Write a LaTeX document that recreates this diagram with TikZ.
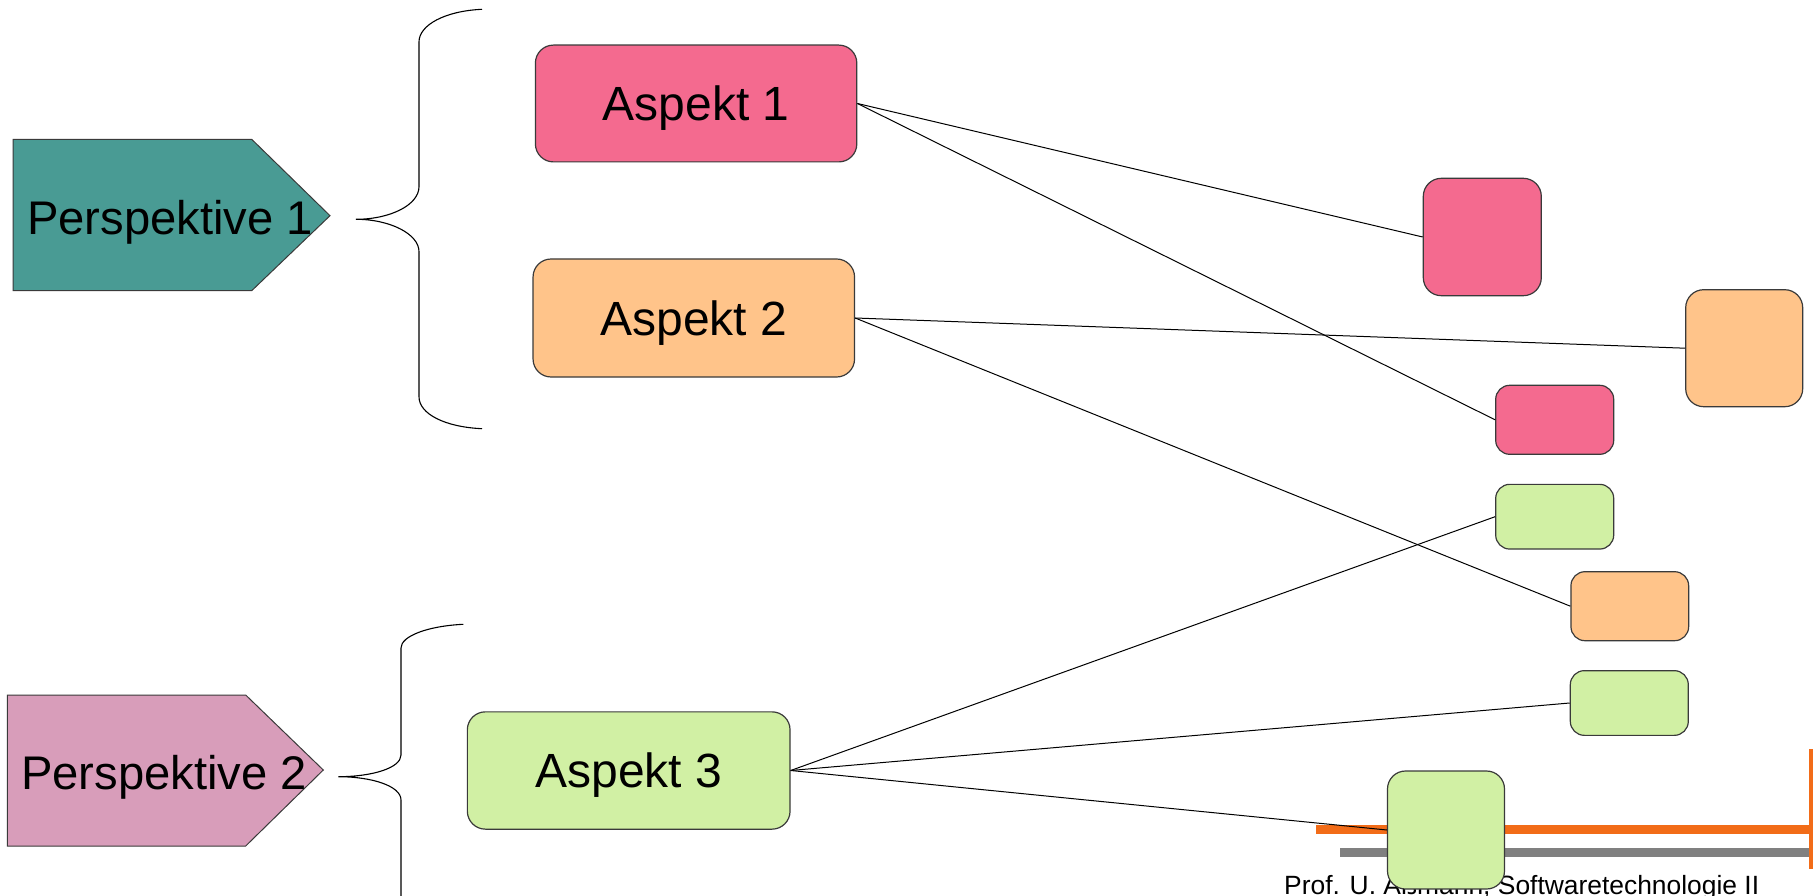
\documentclass[tikz,border=0pt]{standalone}
\usepackage{fontspec}
\setmainfont{Liberation Sans}
\definecolor{boxline}{HTML}{3A3A3A}
\definecolor{aspink}{HTML}{F46A8F}
\definecolor{asorange}{HTML}{FFC48A}
\definecolor{asgreen}{HTML}{D1F0A4}
\definecolor{perteal}{HTML}{499B94}
\definecolor{permauve}{HTML}{D89DBA}
\definecolor{barorange}{HTML}{F26C18}
\definecolor{bargray}{HTML}{808080}
\begin{document}
\begin{tikzpicture}[x=1pt,y=-1pt,
  bigfont/.style={font=\fontsize{48}{56}\selectfont},
  perfont/.style={font=\fontsize{47.2}{56}\selectfont},
  aspect/.style={draw=boxline, line width=1.2pt, rounded corners=18pt,
    inner sep=0pt, bigfont, text height=34.4pt, text depth=0pt},
  tile/.style={draw=boxline, line width=1.2pt, rounded corners=#1, inner sep=0pt},
  tile/.default=18pt,
  arrowshape/.style={draw=boxline, line width=1pt},
  brace/.style={draw=black, line width=1.1pt},
  conn/.style={draw=black, line width=1pt}]
\useasboundingbox (0,0) rectangle (1813,896);

% footer bars and author line
\fill[barorange] (1316,825) rectangle (1813,834);
\fill[bargray] (1339.5,848) rectangle (1813,857);
\fill[barorange] (1808.5,748.5) rectangle (1813,869);
\node[anchor=base west, inner sep=0pt, font=\fontsize{26.4}{30}\selectfont] (footer)
  at (1284,894) {Prof. U. Aßmann, Softwaretechnologie II};

% perspectives
\path[arrowshape, fill=perteal] (13,139.3) -- (251.7,139.3) -- (330,215.7)
  -- (251.7,290.7) -- (13,290.7) -- cycle;
\node[anchor=base, inner sep=0pt, perfont] (p1) at (170,235) {Perspektive 1};
\path[arrowshape, fill=permauve] (7.3,695) -- (245.7,695) -- (323.3,770)
  -- (245.7,846) -- (7.3,846) -- cycle;
\node[anchor=base, inner sep=0pt, perfont] (p2) at (164,789.3) {Perspektive 2};

% braces
\draw[brace] (482,9.3) .. controls (445,11) and (419,25) .. (419,42)
  -- (419,186.7) .. controls (419,205) and (390,219.3) .. (356,219.3)
  .. controls (390,219.3) and (419,234) .. (419,251.7)
  -- (419,396.7) .. controls (419,414) and (445,427) .. (482,428.7);
\draw[brace] (463.3,624.3) .. controls (428,626) and (401,636) .. (401,648)
  -- (401,755) .. controls (401,768) and (372,776.7) .. (338.3,776.7)
  .. controls (372,776.7) and (401,786) .. (401,800) -- (401,900);

% aspects
\node[aspect, fill=aspink, minimum width=321.4pt, minimum height=116.8pt]
  (a1) at (696.1,103.5) {Aspekt 1};
\node[aspect, fill=asorange, minimum width=321.5pt, minimum height=118pt]
  (a2) at (693.8,318) {Aspekt 2};
\node[aspect, fill=asgreen, minimum width=322.7pt, minimum height=117.3pt]
  (a3) at (628.7,770.5) {Aspekt 3};

% concern tiles
\node[tile, fill=aspink, minimum width=118pt, minimum height=117.4pt] (k1) at (1482.3,237) {};
\node[tile, fill=asorange, minimum width=117pt, minimum height=117pt] (k2) at (1744.2,348.2) {};
\node[tile=14pt, fill=aspink, minimum width=118pt, minimum height=69pt] (k3) at (1554.7,419.8) {};
\node[tile=14pt, fill=asgreen, minimum width=118pt, minimum height=64.7pt] (k4) at (1554.7,516.7) {};
\node[tile=14pt, fill=asorange, minimum width=117.7pt, minimum height=69pt] (k5) at (1629.8,606.2) {};
\node[tile=14pt, fill=asgreen, minimum width=118pt, minimum height=64.7pt] (k6) at (1629.3,703) {};

% connections
\draw[conn] (a1.east) -- (k1.west);
\draw[conn] (a1.east) -- (k3.west);
\draw[conn] (a2.east) -- (k2.west);
\draw[conn] (a2.east) -- (k5.west);
\draw[conn] (a3.east) -- (k4.west);
\draw[conn] (a3.east) -- (k6.west);
\node[tile, fill=asgreen, minimum width=117pt, minimum height=118pt] (k7) at (1446,830) {};
\draw[conn] (a3.east) -- (k7.west);
\end{tikzpicture}
\end{document}
